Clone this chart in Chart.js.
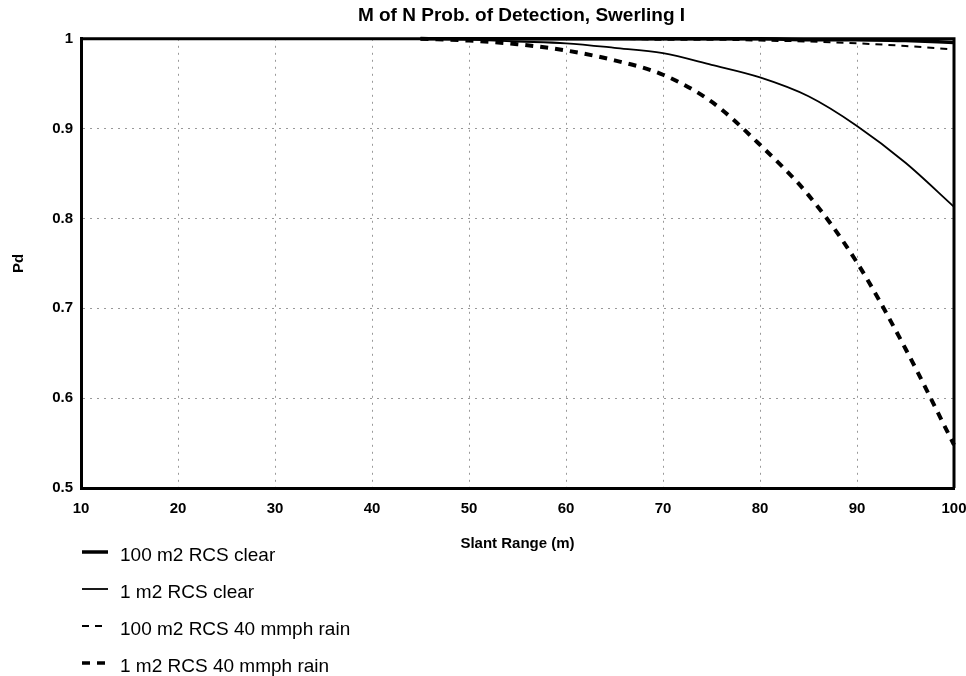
<!DOCTYPE html>
<html><head><meta charset="utf-8">
<script src="https://cdn.jsdelivr.net/npm/chart.js@4.4.1/dist/chart.umd.min.js"></script>
<style>
html,body{margin:0;padding:0;background:#fff;}
#wrap{position:relative;width:966px;height:676px;overflow:hidden;}
#c{position:absolute;left:0;top:0;}
.item{position:absolute;left:82px;height:24px;display:flex;align-items:center;font:19px "Liberation Sans",Arial,sans-serif;color:#000;white-space:nowrap;}
.item svg{margin-right:12px;position:relative;top:-3px;}
</style></head><body>
<div id="wrap"><canvas id="c" width="966" height="676" style="width:966px;height:676px"></canvas><div id="legend"></div></div>
<script>
const chartTitle = 'M of N Prob. of Detection, Swerling I';
const xAxisTitle = 'Slant Range (m)';
const yAxisTitle = 'Pd';
const slantRange = [45, 50, 55, 60, 65, 70, 75, 80, 85, 90, 95, 100];
const seriesNames = ['100 m2 RCS clear', '1 m2 RCS clear', '100 m2 RCS 40 mmph rain', '1 m2 RCS 40 mmph rain'];
const pdClear100 = [1, 1, 1, 1, 1, 1, 1, 1, 0.999, 0.999, 0.998, 0.996];
const pdClear1 = [1, 0.999, 0.997, 0.995, 0.99, 0.984, 0.971, 0.957, 0.936, 0.903, 0.862, 0.813];
const pdRain100 = [1, 1, 1, 1, 1, 0.999, 0.999, 0.998, 0.997, 0.995, 0.992, 0.988];
const pdRain1 = [1, 0.998, 0.994, 0.987, 0.976, 0.96, 0.93, 0.882, 0.826, 0.751, 0.655, 0.548];
const xTickLabels = ['10', '20', '30', '40', '50', '60', '70', '80', '90', '100'];
const yTickLabels = ['0.5', '0.6', '0.7', '0.8', '0.9', '1'];

const FONT = '"Liberation Sans", Arial, sans-serif';
const toPoints = arr => slantRange.map((x, i) => ({x: x, y: arr[i]}));

const styles = [
  {w: 3.5, dash: []},
  {w: 1.8, dash: []},
  {w: 2, dash: [7, 6]},
  {w: 4, dash: [8, 7]}
];
const seriesData = [pdClear100, pdClear1, pdRain100, pdRain1];

const datasets = seriesData.map((d, i) => ({
  label: seriesNames[i],
  data: toPoints(d),
  borderColor: '#000',
  backgroundColor: '#000',
  borderWidth: styles[i].w,
  borderDash: styles[i].dash,
  pointRadius: 0,
  fill: false,
  cubicInterpolationMode: 'monotone',
  clip: false,
  order: 4 - i
}));

const framePlugin = {
  id: 'frame',
  afterLayout(chart) {
    const t = chart.titleBlock;
    if (t) {
      t.left = chart.chartArea.left + 4;
      t.right = chart.chartArea.right + 4;
      t.width = t.right - t.left;
    }
  },
  afterDatasetsDraw(chart) {
    const a = chart.chartArea, ctx = chart.ctx;
    ctx.save();
    ctx.strokeStyle = '#000';
    ctx.lineWidth = 3;
    ctx.setLineDash([]);
    ctx.beginPath();
    ctx.moveTo(a.left, a.top);
    ctx.lineTo(a.right, a.top);
    ctx.lineTo(a.right, a.bottom);
    ctx.stroke();
    ctx.restore();
  }
};

const chart = new Chart(document.getElementById('c'), {
  type: 'line',
  data: {datasets: datasets},
  plugins: [framePlugin],
  options: {
    responsive: false,
    animation: false,
    layout: {padding: {left: 0, right: 0, top: 0, bottom: 118}},
    plugins: {
      legend: {display: false},
      tooltip: {enabled: false},
      title: {
        display: true,
        text: chartTitle,
        color: '#000',
        font: {family: FONT, size: 19, weight: 'bold'},
        padding: {top: 4, bottom: 12}
      }
    },
    scales: {
      x: {
        type: 'linear',
        min: 10, max: 100,
        afterFit(s) { s.height = 70; s.paddingRight = 12; s.paddingLeft = 0; },
        ticks: {
          stepSize: 10,
          padding: 12,
          color: '#000',
          font: {family: FONT, size: 15, weight: 'bold'},
          maxRotation: 0,
          callback: (v, i) => xTickLabels[i] !== undefined ? xTickLabels[i] : v
        },
        grid: {color: 'rgba(0,0,0,0.4)', lineWidth: 1, drawTicks: false},
        border: {display: true, color: '#000', width: 3, dash: [2, 5]},
        title: {
          display: true, text: xAxisTitle, color: '#000',
          font: {family: FONT, size: 15, weight: 'bold'},
          padding: {top: 0, bottom: 5}
        }
      },
      y: {
        min: 0.5, max: 1,
        afterFit(s) { s.width = 81; },
        ticks: {
          stepSize: 0.1,
          padding: 8,
          color: '#000',
          font: {family: FONT, size: 15, weight: 'bold'},
          callback: (v, i) => yTickLabels[i] !== undefined ? yTickLabels[i] : v
        },
        grid: {color: 'rgba(0,0,0,0.4)', lineWidth: 1, drawTicks: false},
        border: {display: true, color: '#000', width: 3, dash: [2, 5]},
        title: {
          display: true, text: yAxisTitle, color: '#000',
          font: {family: FONT, size: 15, weight: 'bold'},
          padding: {top: 10, bottom: 0}
        }
      }
    }
  }
});

// HTML legend built from the chart's datasets
const legend = document.getElementById('legend');
const rowCenters = [555, 592, 629, 666];
chart.data.datasets.forEach((ds, i) => {
  const item = document.createElement('div');
  item.className = 'item';
  item.style.top = (rowCenters[i] - 12) + 'px';
  const svgNS = 'http://www.w3.org/2000/svg';
  const svg = document.createElementNS(svgNS, 'svg');
  svg.setAttribute('width', '26');
  svg.setAttribute('height', '8');
  const ln = document.createElementNS(svgNS, 'line');
  ln.setAttribute('x1', '0'); ln.setAttribute('x2', '26');
  ln.setAttribute('y1', '4'); ln.setAttribute('y2', '4');
  ln.setAttribute('stroke', ds.borderColor);
  ln.setAttribute('stroke-width', String(Math.min(ds.borderWidth, 3.5)));
  if (ds.borderDash && ds.borderDash.length) ln.setAttribute('stroke-dasharray', ds.borderDash.join(' '));
  svg.appendChild(ln);
  const span = document.createElement('span');
  span.textContent = ds.label;
  item.appendChild(svg);
  item.appendChild(span);
  legend.appendChild(item);
});
</script>
</body></html>
